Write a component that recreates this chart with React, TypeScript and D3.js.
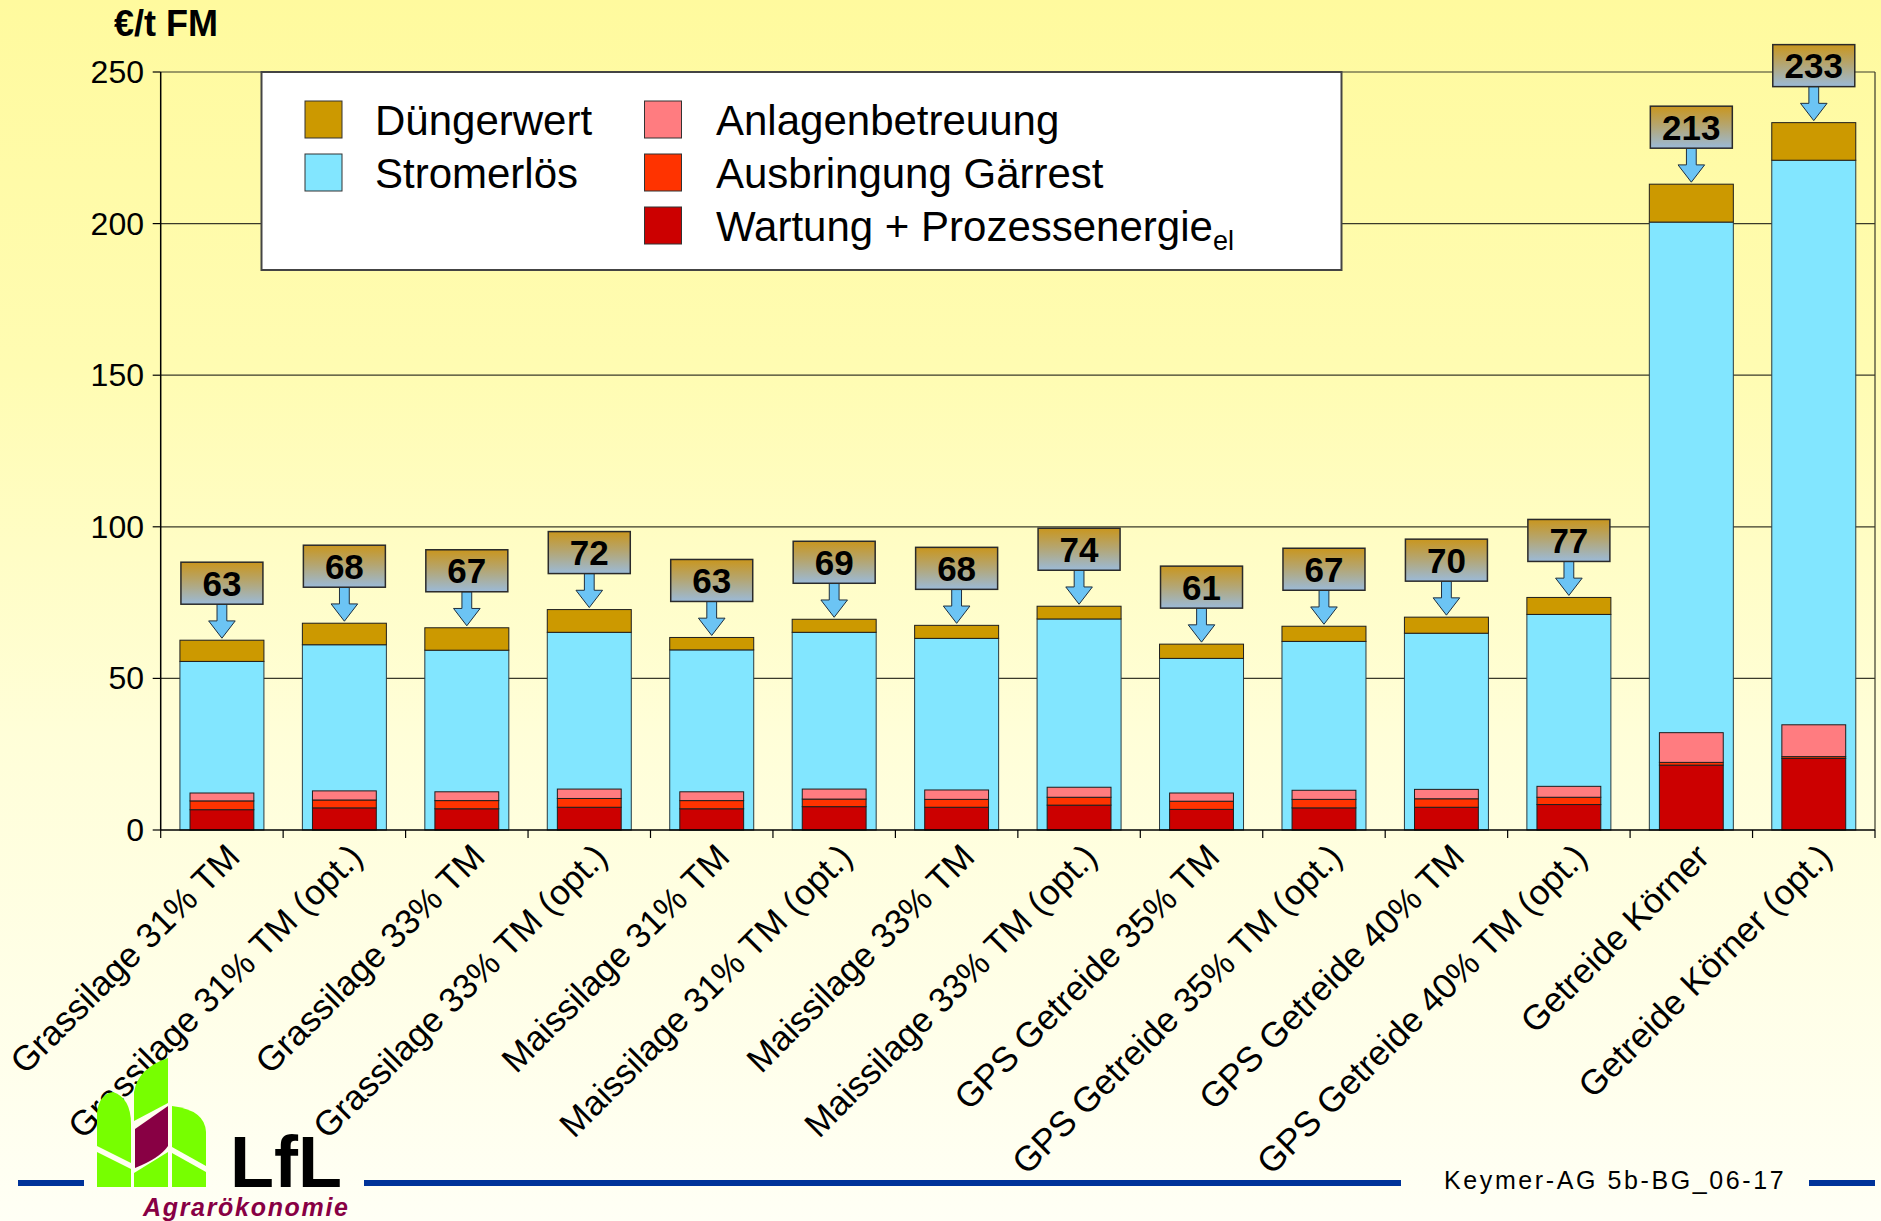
import React from 'react';
import * as d3 from 'd3';

const categories = [
  'Grassilage 31% TM',
  'Grassilage 31% TM (opt.)',
  'Grassilage 33% TM',
  'Grassilage 33% TM (opt.)',
  'Maissilage 31% TM',
  'Maissilage 31% TM (opt.)',
  'Maissilage 33% TM',
  'Maissilage 33% TM (opt.)',
  'GPS Getreide 35% TM',
  'GPS Getreide 35% TM (opt.)',
  'GPS Getreide 40% TM',
  'GPS Getreide 40% TM (opt.)',
  'Getreide Körner',
  'Getreide Körner (opt.)',
];

// cost stack (narrow bars)
const wartung = [6.7, 7.3, 7.0, 7.5, 7.0, 7.7, 7.5, 8.2, 6.8, 7.3, 7.5, 8.4, 21.4, 23.6];
const ausbringung = [2.9, 2.6, 2.7, 2.9, 2.7, 2.5, 2.6, 2.6, 2.7, 2.8, 2.8, 2.4, 0.9, 0.6];
const anlagenbetreuung = [2.6, 3.0, 2.9, 3.1, 2.9, 3.3, 3.1, 3.3, 2.7, 3.0, 3.1, 3.6, 9.8, 10.5];
// revenue stack (wide bars)
const stromerloes = [55.6, 61.1, 59.3, 65.2, 59.4, 65.2, 63.2, 69.6, 56.6, 62.2, 64.9, 71.1, 200.5, 220.9];
const duengerwert = [7.0, 7.1, 7.4, 7.5, 4.1, 4.3, 4.3, 4.2, 4.7, 5.0, 5.3, 5.6, 12.5, 12.4];
const totals = [63, 68, 67, 72, 63, 69, 68, 74, 61, 67, 70, 77, 213, 233];

const yTicks = [0, 50, 100, 150, 200, 250];
const yTitle = '€/t FM';
const footerText = 'Keymer-AG 5b-BG_06-17';

const legendLeft = [
  { name: 'Düngerwert', color: '#CC9900' },
  { name: 'Stromerlös', color: '#82E6FF' },
];
const legendRight = [
  { name: 'Anlagenbetreuung', color: '#FF7C80', sub: '' },
  { name: 'Ausbringung Gärrest', color: '#FF3300', sub: '' },
  { name: 'Wartung + Prozessenergie', color: '#CC0000', sub: 'el' },
];

const COL = {
  duenger: '#CC9900',
  strom: '#82E6FF',
  anlagen: '#FF7C80',
  ausbr: '#FF3300',
  wartung: '#CC0000',
};

const FONT = "Arial, 'Liberation Sans', Helvetica, sans-serif";

export default function App() {
  const W = 1881;
  const H = 1221;
  const plotL = 160.7;
  const plotR = 1875;
  const plotT = 72;
  const plotB = 830;

  const y = d3.scaleLinear().domain([0, 250]).range([plotB, plotT]);
  const x = d3
    .scaleBand<string>()
    .domain(categories)
    .range([plotL, plotR])
    .paddingInner(0.314)
    .paddingOuter(0.157);
  const bw = x.bandwidth();
  const step = x.step();
  const innerW = bw * 0.76;

  const boundaries = d3.range(categories.length + 1).map((i) => plotL + i * step);

  return (
    <svg
      width={W}
      height={H}
      style={{ position: 'absolute', left: 0, top: 0, display: 'block' }}
      fontFamily={FONT}
    >
      <defs>
        <linearGradient id="bg" x1="0" y1="0" x2="0" y2="1">
          <stop offset="0" stopColor="#FFFA9E" />
          <stop offset="0.3" stopColor="#FFFCB2" />
          <stop offset="0.6" stopColor="#FFFED8" />
          <stop offset="1" stopColor="#FFFFF5" />
        </linearGradient>
        <linearGradient id="lbl" x1="0" y1="0" x2="0" y2="1">
          <stop offset="0" stopColor="#C9961E" />
          <stop offset="0.45" stopColor="#B5A56E" />
          <stop offset="1" stopColor="#9BBAD8" />
        </linearGradient>
      </defs>
      <rect x={0} y={0} width={W} height={H} fill="url(#bg)" />

      {/* gridlines */}
      {yTicks.slice(1).map((t) => (
        <line key={'g' + t} x1={plotL} x2={plotR} y1={y(t)} y2={y(t)} stroke="#3a3a2a" strokeWidth={1.2} />
      ))}
      {/* right border */}
      <line x1={plotR} x2={plotR} y1={plotT} y2={plotB} stroke="#3a3a2a" strokeWidth={1.2} />

      {/* bars */}
      {categories.map((c, i) => {
        const bx = x(c)!;
        const ix = bx + (bw - innerW) / 2;
        const s0 = 0;
        const s1 = stromerloes[i];
        const s2 = s1 + duengerwert[i];
        const c1 = wartung[i];
        const c2 = c1 + ausbringung[i];
        const c3 = c2 + anlagenbetreuung[i];
        return (
          <g key={c} stroke="#1e1e1e" strokeWidth={1}>
            <rect x={bx} y={y(s1)} width={bw} height={y(s0) - y(s1)} fill={COL.strom} stroke="#2a3a40" />
            <rect x={bx} y={y(s2)} width={bw} height={y(s1) - y(s2)} fill={COL.duenger} />
            <rect x={ix} y={y(c1)} width={innerW} height={y(0) - y(c1)} fill={COL.wartung} />
            <rect x={ix} y={y(c2)} width={innerW} height={y(c1) - y(c2)} fill={COL.ausbr} />
            <rect x={ix} y={y(c3)} width={innerW} height={y(c2) - y(c3)} fill={COL.anlagen} />
          </g>
        );
      })}

      {/* axes */}
      <line x1={plotL} x2={plotL} y1={plotT} y2={plotB} stroke="#000" strokeWidth={1.5} />
      <line x1={plotL} x2={plotR} y1={plotB} y2={plotB} stroke="#000" strokeWidth={1.5} />
      {yTicks.map((t) => (
        <g key={'yt' + t}>
          <line x1={plotL - 8} x2={plotL} y1={y(t)} y2={y(t)} stroke="#000" strokeWidth={1.2} />
          <text x={144} y={y(t) + 11} textAnchor="end" fontSize={32} fill="#000">
            {t}
          </text>
        </g>
      ))}
      {boundaries.map((bx, i) => (
        <line key={'xt' + i} x1={bx} x2={bx} y1={plotB} y2={plotB + 8} stroke="#000" strokeWidth={1.2} />
      ))}
      {categories.map((c) => {
        const cx = x(c)! + bw / 2;
        return (
          <text
            key={'xl' + c}
            transform={`translate(${cx + 20},${plotB + 29}) rotate(-45)`}
            textAnchor="end"
            fontSize={35}
            fill="#000"
          >
            {c}
          </text>
        );
      })}

      <text x={114} y={36} fontSize={36} fontWeight="bold" fill="#000">
        {yTitle}
      </text>

      {/* legend */}
      <g>
        <rect x={261.5} y={72} width={1080} height={198} fill="#FFFFFF" stroke="#444" strokeWidth={2} />
        {legendLeft.map((d, i) => (
          <g key={d.name}>
            <rect x={305} y={101 + i * 53} width={37} height={37} fill={d.color} stroke="#333" strokeWidth={1} />
            <text x={375} y={135 + i * 53} fontSize={42} fill="#000">
              {d.name}
            </text>
          </g>
        ))}
        {legendRight.map((d, i) => (
          <g key={d.name}>
            <rect x={644.5} y={101 + i * 53} width={37} height={37} fill={d.color} stroke="#333" strokeWidth={1} />
            <text x={716} y={135 + i * 53} fontSize={42} fill="#000">
              <tspan>{d.name}</tspan>
              {d.sub ? (
                <tspan dy={9} fontSize={27}>
                  {d.sub}
                </tspan>
              ) : null}
            </text>
          </g>
        ))}
      </g>

      {/* value callouts */}
      {categories.map((c, i) => {
        const cx = x(c)! + bw / 2;
        const top = y(stromerloes[i] + duengerwert[i]);
        const tip = top - 2;
        const boxB = tip - 34;
        const boxT = boxB - 42;
        const hw = 13.3;
        const sw = 4.9;
        const headT = tip - 17.3;
        const arrow = `M${cx - sw},${boxB} L${cx + sw},${boxB} L${cx + sw},${headT} L${cx + hw},${headT} L${cx},${tip} L${cx - hw},${headT} L${cx - sw},${headT} Z`;
        return (
          <g key={'cl' + c}>
            <path d={arrow} fill="#6CC4F4" stroke="#1f2f3f" strokeWidth={1} />
            <rect x={cx - 41} y={boxT} width={82} height={42} fill="url(#lbl)" stroke="#2a2a2a" strokeWidth={1.5} />
            <text x={cx} y={boxT + 33.5} textAnchor="middle" fontSize={35} fontWeight="bold" fill="#000">
              {totals[i]}
            </text>
          </g>
        );
      })}

      {/* footer line */}
      <g fill="#003399">
        <rect x={18} y={1180} width={66} height={6} />
        <rect x={364} y={1180} width={1037} height={6} />
        <rect x={1809} y={1180} width={66} height={6} />
      </g>
      <text x={1444} y={1189} fontSize={25} letterSpacing={2.6} fill="#000">
        {footerText}
      </text>

      {/* LfL logo */}
      <g>
        <g fill="#77FF00">
          <path d="M97,1152 L131,1169 L131,1187 L97,1187 Z" />
          <path d="M97,1146 L97,1113 Q99,1094 113,1092 Q131,1098 131,1124 L131,1163 Z" />
          <path d="M134,1121 L134,1092 Q138,1068 168,1058 L168,1103 Z" />
          <path d="M134,1173 L168,1152 L168,1187 L134,1187 Z" />
          <path d="M172,1106 Q205,1110 206,1132 L206,1166 L172,1147 Z" />
          <path d="M172,1153 L206,1172 L206,1187 L172,1187 Z" />
        </g>
        <path d="M135,1129 L168,1106 L168,1146 Q160,1158 135,1168 Z" fill="#880044" />
        <text x={230} y={1187} fontSize={72} fontWeight="bold" fill="#000">
          LfL
        </text>
        <text x={143} y={1216} fontSize={25} fontWeight="bold" fontStyle="italic" fill="#880044" textLength={205}>
          Agrarökonomie
        </text>
      </g>
    </svg>
  );
}
